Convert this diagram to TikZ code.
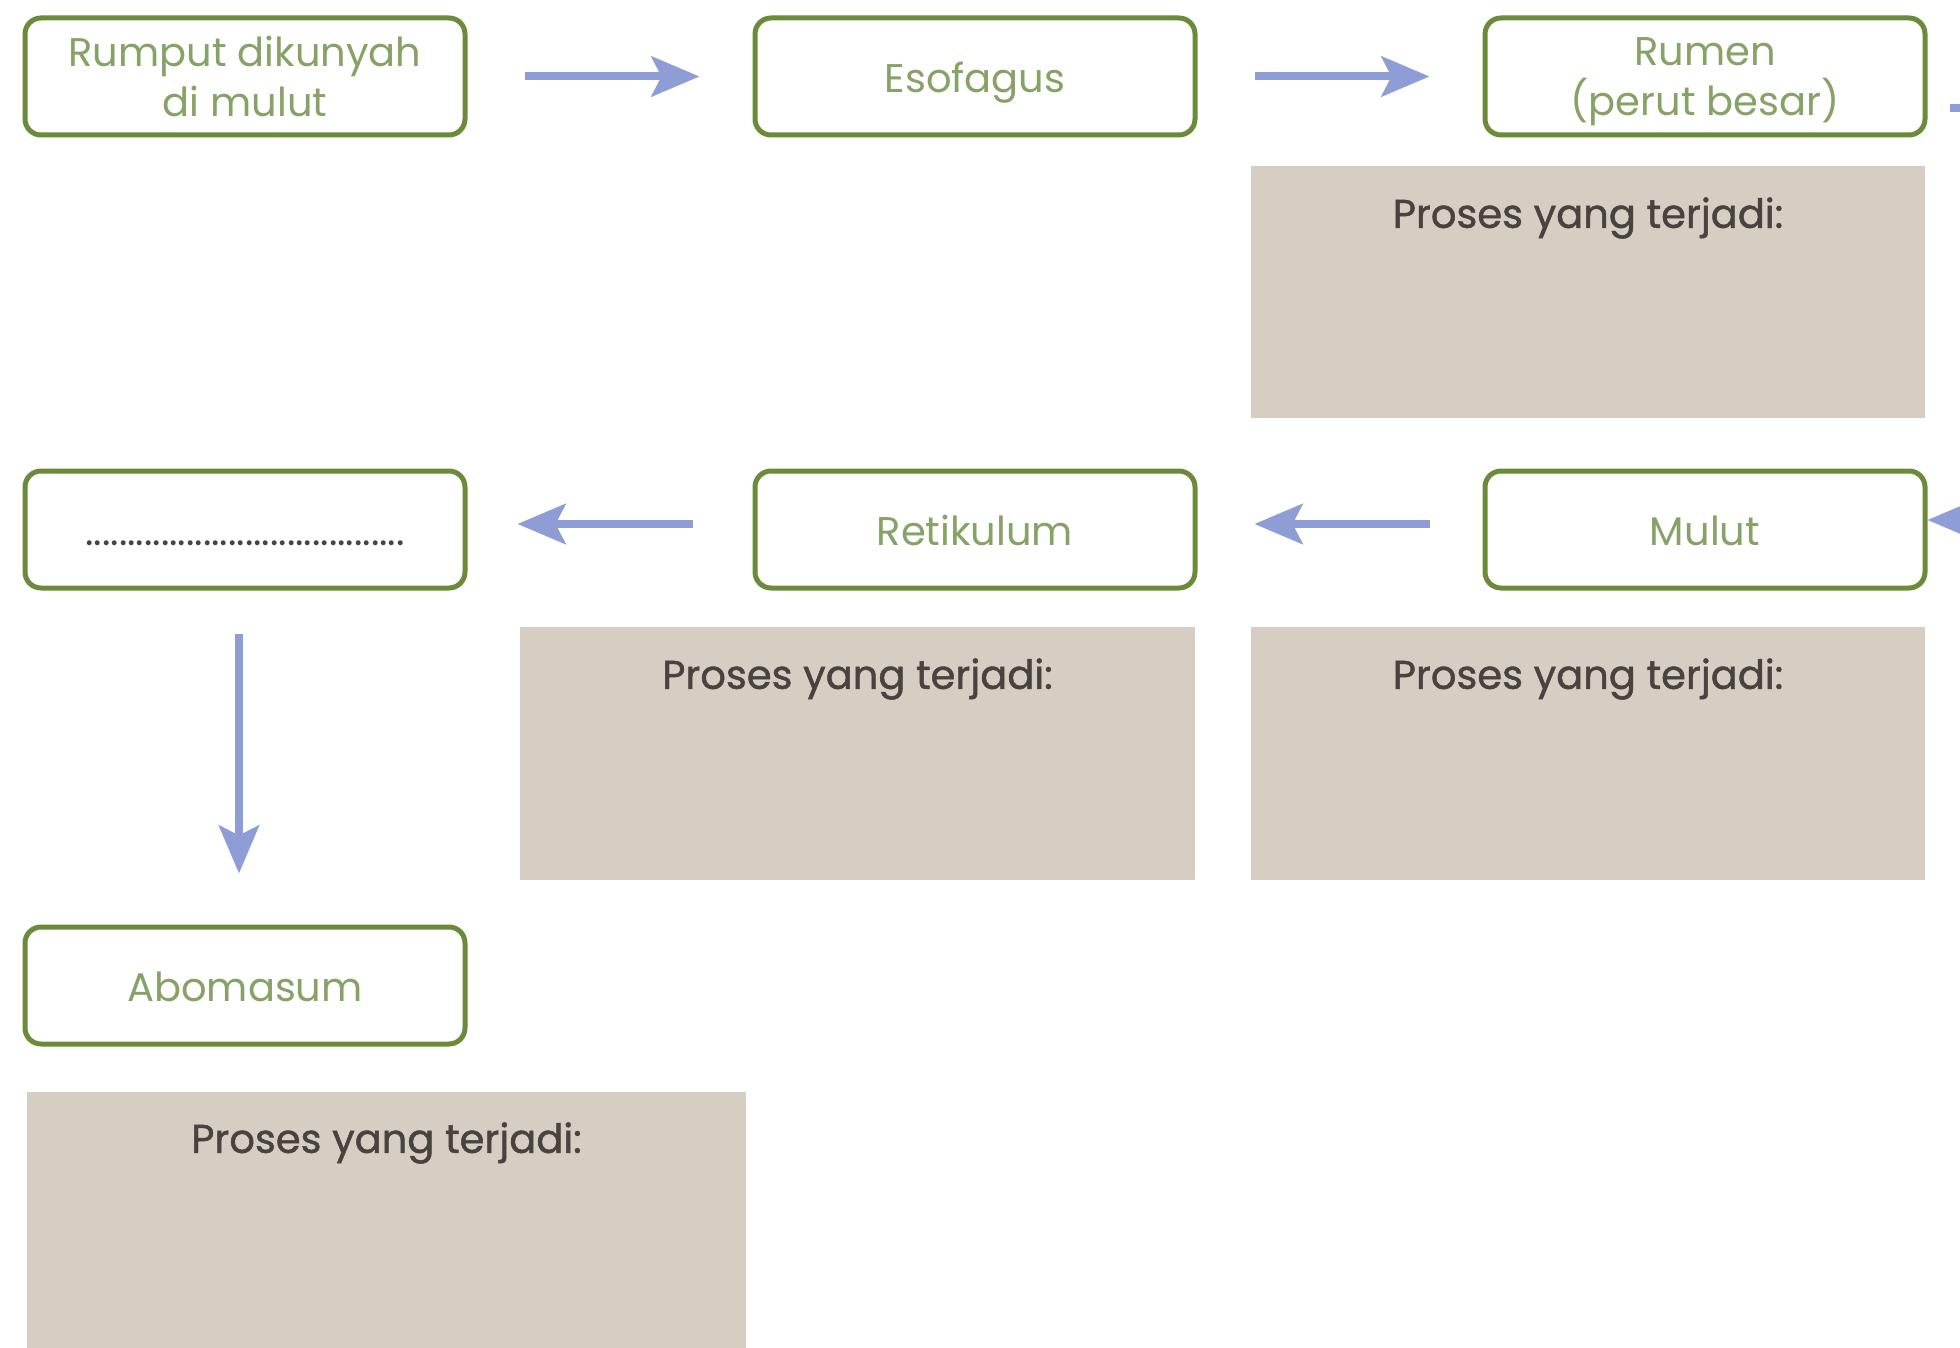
\documentclass[tikz,border=0pt]{standalone}
\usepackage{fontspec}
\setmainfont{Poppins}
\newfontfamily\procfont[FakeBold=1.2]{Poppins}
\usetikzlibrary{arrows.meta,calc}
\definecolor{boxgreen}{HTML}{6B8A3A}
\definecolor{txtgreen}{HTML}{86A266}
\definecolor{arrowblue}{HTML}{8E9DD6}
\definecolor{greyfill}{HTML}{D6CEC3}
\definecolor{greytext}{HTML}{48433F}
\tikzset{
  stagebox/.style={draw=boxgreen, line width=2.5pt, rounded corners=8pt, fill=white,
    minimum width=220pt, minimum height=58.5pt, inner sep=0pt, align=center,
    text=txtgreen, font=\fontsize{20}{25}\selectfont},
  oneline/.style={text height=18pt, text depth=2pt},
  greybox/.style={fill=greyfill, draw=none, inner sep=0pt},
  ptext/.style={text=greytext, font=\procfont\fontsize{20}{24}\selectfont, inner sep=0pt},
  flow/.style={draw=arrowblue, line width=4pt,
    -{Stealth[length=24pt,width=20pt,inset=5pt]}}
}
\begin{document}
\begin{tikzpicture}[x=0.5pt,y=-0.5pt]
\useasboundingbox (0,0) rectangle (1960,1348);
\clip (0,0) rectangle (1960,1348);
% grey process boxes
\node[greybox, minimum width=337pt, minimum height=126pt] (g1) at (1588,292) {};
\node[greybox, minimum width=337.5pt, minimum height=126.5pt] (g2) at (857.5,753.5) {};
\node[greybox, minimum width=337pt, minimum height=126.5pt] (g3) at (1588,753.5) {};
\node[greybox, minimum width=359.5pt, minimum height=134pt] (g4) at (386.5,1226) {};
\node[ptext] (g1t) at (1588,218) {Proses yang terjadi:};
\node[ptext] (g2t) at (857.5,679) {Proses yang terjadi:};
\node[ptext] (g3t) at (1588,679) {Proses yang terjadi:};
\node[ptext] (g4t) at (386.5,1143) {Proses yang terjadi:};
% stage boxes
\node[stagebox] (A) at (245,76.5) {Rumput dikunyah\\di mulut};
\node[stagebox, oneline] (B) at (975,76.5) {Esofagus};
\node[stagebox] (C) at (1705,76.5) {Rumen\\\smash{(perut besar)}};
\node[stagebox, oneline, text=greytext] (D) at (245,529.5) {......................................};
\node[stagebox, oneline] (R) at (975,529.5) {Retikulum};
\node[stagebox, oneline] (M) at (1705,529.5) {Mulut};
\node[stagebox, oneline] (Ab) at (245,985.5) {Abomasum};
% connectors
\draw[flow, shorten <=28.5pt, shorten >=26.5pt] (A) -- (B);
\draw[flow, shorten <=28.5pt, shorten >=26.5pt] (B) -- (C);
\draw[flow, shorten <=26.5pt, shorten >=28.5pt] ([yshift=2.75pt]M.west) -- ([yshift=2.75pt]R.east);
\draw[flow, shorten <=30pt, shorten >=25pt] ([yshift=2.75pt]R.west) -- ([yshift=2.75pt]D.east);
\draw[flow, shorten <=21.5pt, shorten >=25.5pt] ([xshift=-3pt]D.south) -- ([xshift=-3pt]Ab.north);
\coordinate (rs) at (1950,108);
\coordinate (rc1) at (2040,108);
\coordinate (rc2) at (2040,520);
\draw[flow] (rs) -- (rc1) -- (rc2) -- ([yshift=4.75pt]M.east);
\end{tikzpicture}
\end{document}
